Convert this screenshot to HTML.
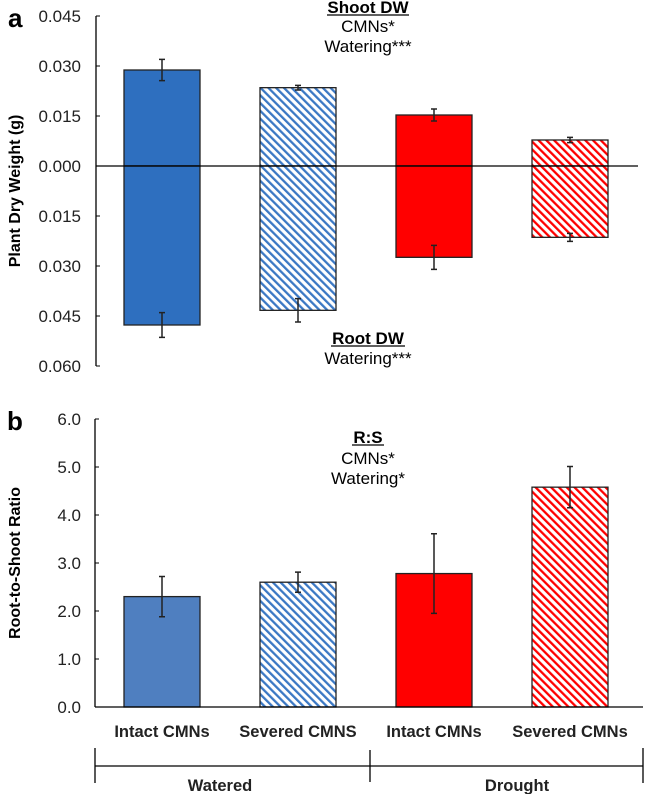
<!DOCTYPE html>
<html><head><meta charset="utf-8"><style>
body{margin:0;background:#fff}
svg{display:block;font-family:"Liberation Sans",Arial,sans-serif}
</style></head><body>
<svg id="chart" width="645" height="794" viewBox="0 0 645 794" xmlns="http://www.w3.org/2000/svg">
<defs>
<pattern id="hb" patternUnits="userSpaceOnUse" width="5.5" height="6" patternTransform="rotate(-45)">
<rect width="5.5" height="6" fill="#fff"/><rect x="0" y="0" width="2.3" height="6" fill="#3b78c4"/></pattern>
<pattern id="hr" patternUnits="userSpaceOnUse" width="5.5" height="6" patternTransform="rotate(-45)">
<rect width="5.5" height="6" fill="#fff"/><rect x="0" y="0" width="2.3" height="6" fill="#ff0000"/></pattern>
</defs>
<g id="a"></g>
<g id="b"></g>
</svg>
<script>
const categories=["Intact CMNs","Severed CMNS","Intact CMNs","Severed CMNs"];
const shootVals=[0.0288,0.0235,0.0153,0.0078];
const shootErr=[0.0032,0.0007,0.0018,0.0008];
const rootVals=[0.0477,0.0433,0.0274,0.0214];
const rootErr=[0.0037,0.0035,0.0036,0.0012];
const aTicks=["0.045","0.030","0.015","0.000","0.015","0.030","0.045","0.060"];
const rsVals=[2.3,2.6,2.78,4.58];
const rsErr=[0.42,0.21,0.83,0.43];
const bTicks=["0.0","1.0","2.0","3.0","4.0","5.0","6.0"];
const groups=["Watered","Drought"];

const NS="http://www.w3.org/2000/svg";
function mk(parent,tag,attrs,text){const e=document.createElementNS(NS,tag);for(const k in attrs)e.setAttribute(k,attrs[k]);if(text!==undefined)e.textContent=text;parent.appendChild(e);return e;}
const fills=["#2e6fbf","url(#hb)","#ff0000","url(#hr)"];
const fillsB=["#4f7fc0","url(#hb)","#ff0000","url(#hr)"];
const bx=i=>124+i*136, BW=76;

// Panel a
const A=document.getElementById('a');
const ya=v=>166-v*(50/0.015);
let e;
e=mk(A,'text',{x:8,y:27,'font-size':26,'font-weight':'bold'},'a');

aTicks.forEach((t,i)=>{const v=0.045-i*0.015;
 e=mk(A,'text',{x:81,y:ya(v)+6,'font-size':17,'text-anchor':'end',fill:'#222'},t);
 
 mk(A,'line',{x1:96,x2:100,y1:ya(v),y2:ya(v),stroke:'#000'});});
e=mk(A,'text',{x:0,y:0,'font-size':16,'font-weight':'bold','text-anchor':'middle',transform:`translate(20,${ya(-0.0075)}) rotate(-90)`},'Plant Dry Weight (g)');

shootVals.forEach((v,i)=>{const x=bx(i);
 e=mk(A,'rect',{x:x,y:ya(v),width:BW,height:ya(0)-ya(v),fill:fills[i],stroke:'#222','stroke-width':1.3});
 
 const cx=x+BW/2;
 e=mk(A,'path',{d:`M${cx-3},${ya(v+shootErr[i])}h6M${cx},${ya(v+shootErr[i])}V${ya(v-shootErr[i])}M${cx-3},${ya(v-shootErr[i])}h6`,stroke:'#222','stroke-width':1.5,fill:'none'});
 });
rootVals.forEach((v,i)=>{const x=bx(i);
 e=mk(A,'rect',{x:x,y:ya(0),width:BW,height:ya(-v)-ya(0),fill:fills[i],stroke:'#222','stroke-width':1.3});
 
 const cx=x+BW/2,t=ya(-v+rootErr[i]),b=ya(-v-rootErr[i]);
 e=mk(A,'path',{d:`M${cx-3},${t}h6M${cx},${t}V${b}M${cx-3},${b}h6`,stroke:'#222','stroke-width':1.5,fill:'none'});
 });
mk(A,'line',{x1:96,x2:96,y1:ya(0.045),y2:ya(-0.06),stroke:'#000','stroke-width':1.3});
e=mk(A,'line',{x1:96,x2:638,y1:ya(0),y2:ya(0),stroke:'#000','stroke-width':1.3});

e=mk(A,'text',{x:368,y:13,'font-size':17,'font-weight':'bold','text-anchor':'middle'},'Shoot DW');

mk(A,'line',{x1:327,x2:409,y1:15,y2:15,stroke:'#000','stroke-width':1.3});
mk(A,'text',{x:368,y:32,'font-size':17,'text-anchor':'middle'},'CMNs*');
mk(A,'text',{x:368,y:52,'font-size':17,'text-anchor':'middle'},'Watering***');
e=mk(A,'text',{x:368,y:344,'font-size':17,'font-weight':'bold','text-anchor':'middle'},'Root DW');

mk(A,'line',{x1:331,x2:405,y1:346,y2:346,stroke:'#000','stroke-width':1.3});
mk(A,'text',{x:368,y:364,'font-size':17,'text-anchor':'middle'},'Watering***');

// Panel b
const B=document.getElementById('b');
const yb=v=>707-v*48;
e=mk(B,'text',{x:7,y:430,'font-size':26,'font-weight':'bold'},'b');

bTicks.forEach((t,i)=>{
 e=mk(B,'text',{x:81,y:yb(i)+6,'font-size':17,'text-anchor':'end',fill:'#222'},t);
 
 mk(B,'line',{x1:95,x2:99,y1:yb(i),y2:yb(i),stroke:'#000'});});
e=mk(B,'text',{x:0,y:0,'font-size':16,'font-weight':'bold','text-anchor':'middle',transform:`translate(20,${yb(3)}) rotate(-90)`},'Root-to-Shoot Ratio');

rsVals.forEach((v,i)=>{const x=bx(i);
 e=mk(B,'rect',{x:x,y:yb(v),width:BW,height:yb(0)-yb(v),fill:fillsB[i],stroke:'#222','stroke-width':1.3});
 
 const cx=x+BW/2,t=yb(v+rsErr[i]),b=yb(v-rsErr[i]);
 e=mk(B,'path',{d:`M${cx-3},${t}h6M${cx},${t}V${b}M${cx-3},${b}h6`,stroke:'#222','stroke-width':1.5,fill:'none'});
 
 e=mk(B,'text',{x:cx,y:737,'font-size':16.5,'font-weight':'bold','text-anchor':'middle',fill:'#222'},categories[i]);
 });
mk(B,'line',{x1:95,x2:95,y1:yb(6),y2:yb(0),stroke:'#000','stroke-width':1.3});
mk(B,'line',{x1:95,x2:643,y1:yb(0),y2:yb(0),stroke:'#000','stroke-width':1.3});
e=mk(B,'path',{d:'M95,748V783M370,750V782M643,748V783M95,766H643',stroke:'#000','stroke-width':1.3,fill:'none'});

groups.forEach((g,i)=>{e=mk(B,'text',{x:i?517:220,y:791,'font-size':16.5,'font-weight':'bold','text-anchor':'middle',fill:'#222'},g);
 });
e=mk(B,'text',{x:368,y:443,'font-size':17,'font-weight':'bold','text-anchor':'middle'},'R:S');

mk(B,'line',{x1:352,x2:384,y1:445,y2:445,stroke:'#000','stroke-width':1.3});
mk(B,'text',{x:368,y:464,'font-size':17,'text-anchor':'middle'},'CMNs*');
mk(B,'text',{x:368,y:484,'font-size':17,'text-anchor':'middle'},'Watering*');
</script>
</body></html>
